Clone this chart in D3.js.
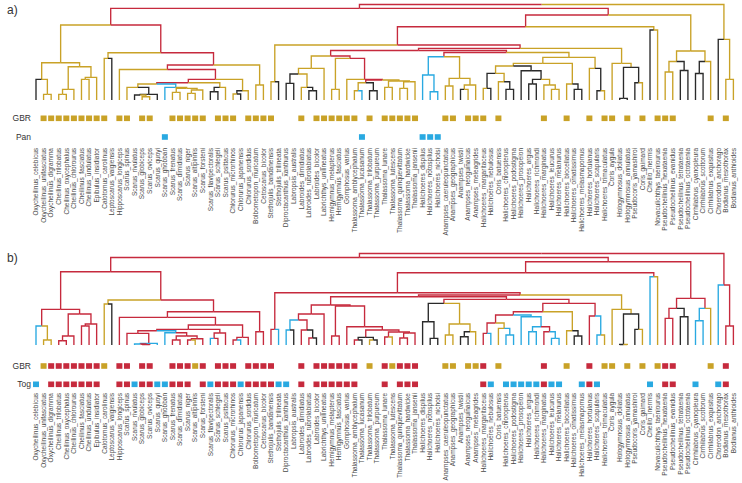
<!DOCTYPE html>
<html><head><meta charset="utf-8">
<script src="https://cdn.jsdelivr.net/npm/d3@7"></script>
<style>body{margin:0;background:#fff}svg{display:block}</style>
</head><body>
<svg id="c" width="742" height="483"></svg>
<script>
// ---------- DATA ----------
const species = ["Oxycheilinus_celebicus","Oxycheilinus_unifasciatus","Oxycheilinus_digramma","Cheilinus_trilobatus","Cheilinus_oxycephalus","Cheilinus_chlorourus","Cheilinus_fasciatus","Cheilinus_undulatus","Epibulus_insidiator","Calotomus_carolinus","Leptoscarus_vaigiensis","Hipposcarus_longiceps","Scarus_spinus","Scarus_rivulatus","Scarus_globiceps","Scarus_oviceps","Scarus_quoyi","Scarus_ghobban","Scarus_frenatus","Scarus_dimidiatus","Scarus_niger","Scarus_altipinnis","Scarus_forsteni","Scarus_flavipectoralis","Scarus_schlegeli","Scarus_psittacus","Chlorurus_microrhinos","Chlorurus_japanensis","Chlorurus_sordidus","Bolbometopon_muricatum","Cetoscarus_bicolor","Stethojulis_bandanensis","Stethojulis_trilineata","Diproctacanthus_xanthurus","Labropsis_australis","Labroides_dimidiatus","Labroides_rubrolabiatus","Labroides_bicolor","Labrichthys_unilineatus","Hemigymnus_melapterus","Hemigymnus_fasciatus","Gomphosus_varius","Thalassoma_amblycephalum","Thalassoma_lucasanum","Thalassoma_trilobatum","Thalassoma_purpureum","Thalassoma_lunare","Thalassoma_lutescens","Thalassoma_quinquevittatum","Thalassoma_hardwicke","Thalassoma_jansenii","Halichoeres_dispilus","Halichoeres_notospilus","Halichoeres_nicholsi","Anampses_caeruleopunctatus","Anampses_geographicus","Anampses_twistii","Anampses_neoguinaicus","Anampses_meleagrides","Halichoeres_margaritaceus","Halichoeres_nebulosus","Coris_batuensis","Halichoeres_chloropterus","Halichoeres_podostigma","Halichoeres_prosopeion","Halichoeres_argus","Halichoeres_richmondi","Halichoeres_marginatus","Halichoeres_leucurus","Halichoeres_melanurus","Halichoeres_biocellatus","Halichoeres_ornatissimus","Halichoeres_melasmapomus","Halichoeres_hortulanus","Halichoeres_scapularis","Halichoeres_trimaculatus","Coris_aygula","Hologymnosus_doliatus","Hologymnosus_annulatus","Pseudocoris_yamashiroi","Coris_gaimard","Cheilio_inermis","Novaculichthys_taeniourus","Pseudocheilinus_hexataenia","Pseudocheilinus_evanidus","Pseudocheilinus_tetrataenia","Pseudocheilinus_octotaenia","Cirrhilabrus_cyanopleura","Cirrhilabrus_scottorum","Cirrhilabrus_exquisitus","Choerodon_anchorago","Bodianus_mesothorax","Bodianus_anthioides"];

// Tree notation: leaf = index+state ; node = (left,right)height+state  (state colours the branch above)
// ---- panel a ----
const a_A   = "((0k,(1g,2g)5.7g)20.7g,(((3g,4g)5.7g,5g)10.7g,((6g,7g)20.7g,8g)22.7g)33.3g)37.3g";
const a_V1  = "((12g,((13k,(14g,15g)3.3g)5k,16k)5.7k)12.7g,(17b,((18g,19g)7.7g,((20g,21g)6.7g,22g)10g)11.7g)12.7b)16r";
const a_Q   = "((9g,10k)41.7g,((11g,(("+a_V1+",((23k,24k)8.3k,25g)12.7g)17.3r,((26g,27k)6k,28g)9.3g)20.7r)30.5r,(29g,30g)15g)35r)47.3r";
const a_C1  = "(((33k,34k)16.7k,(35g,(36k,37k)9.3k)12.7g)26g,38g)31.7g";
const a_C2  = "((39g,40g)10.7g,(41g,(((42g,43b)9.3g,(44k,45k)9.3k)17.3r,((46g,47g)12.7g,((48g,49g)11.7g,50g)18.3g)19g)20r)20.7r)41.7r";
const a_BA  = "((51b,(52b,53b)8.3b)25b,((54g,55g)14g,((56k,57g)10.7g,58g)15g)21.7g)43.3r";
const a_HH  = "(((((59g,60k)11.7k,(61g,(62k,63k)10.7k)18.3g)26.7g,(64k,((65k,66k)16k,(67g,(68g,69g)10.7g)15g)20.7k)29.3k)34g,(70g,(71k,72k)10.7k)16g)36.7g,(73g,(74k,75g)9.3k)31.7g)42.7g";
const a_K   = "(76g,((77k,78k)1.7k,(79k,80g)17.3k)32.7g)36.7g";
const a_Z   = "((31g,32k)18.3g,((("+a_C1+","+a_C2+")44r,("+a_BA+","+a_HH+")47.5r)49.5r,"+a_K+")51.7r)55r";
const a_M   = "(("+a_Z+",(81k,82g)70g)73.3r,(((83g,84g)28g,(85k,86k)29.5k)38.5g,((87k,88k)26.5k,89g)38.5g)49g)85r";
const treeA = "((("+a_A+","+a_Q+")75r,"+a_M+")91.7r,(90k,(91g,92g)20.7g)60.7g)95.5r";

// ---- panel b ----
const b_A   = "((0b,(1g,2g)5g)19r,(((3r,4r)4.3r,5r)9r,((6r,7r)19r,8r)21r)31r)35.7r";
const b_V1  = "((12r,((13b,(14r,15r)0.4r)1b,16b)1.7r)11.7r,(17b,((18r,19r)5r,((20r,21g)5r,22r)6.3r)9r)12.3b)14.3r";
const b_Q   = "((9g,10k)41g,((11r,(("+b_V1+",((23b,24r)6.7r,25r)12r)15.7r,((26r,27b)5r,28r)7.7r)20r)27.7r,(29r,30r)13.3r)33.3r)45r";
const b_C1  = "(((33b,34k)15b,(35r,(36r,37k)7k)15r)25r,38r)31r";
const b_C2  = "((39r,40r)9r,(41r,(((42r,43k)5k,(44g,45k)5k)7.7r,((46r,47g)8r,((48r,49r)7r,50r)12r)13r)15r)18.3r)39r";
const b_BA  = "((51k,(52k,53k)6.7k)23.3k,((54g,55g)10g,((56k,57k)8.3k,58g)13.3g)21g)41.7r";
const b_HH  = "(((((59r,60b)11.7r,(61g,(62b,63b)10b)16.7g)22r,(64b,((65b,66b)13.3b,(67r,(68b,69b)6.7b)13.3r)18.3b)28.3b)30r,(70g,(71k,72k)9k)14.3g)33.3r,(73r,(74b,75g)10b)29r)41.7r";
const b_K   = "(76g,((77k,78g)0.5k,(79k,80g)15.7k)31g)35.7g";
const b_Z   = "((31r,32b)15.7r,((("+b_C1+","+b_C2+")40r,("+b_BA+","+b_HH+")45.7r)48.3r,"+b_K+")50r)52.3r";
const b_M   = "(("+b_Z+",(81b,82g)68.3r)72.3r,(((83r,84r)26.7r,(85k,86k)28.3k)36.7r,((87b,88b)24.3b,89g)36.7r)46.7r)83.3r";
const treeB = "((("+b_A+","+b_Q+")73.3r,"+b_M+")87.5r,(90b,(91r,92r)19r)60r)91.5r";

// occurrence rows
const gbrA = [1,2,3,4,5,6,7,8,9,11,12,14,15,18,19,20,21,22,24,25,26,28,29,30,31,35,37,38,39,40,41,42,44,46,47,48,49,50,54,55,57,58,59,61,67,70,73,75,76,78,80,82,83,84,89,91];
const panA = [17,43,51,52,53];
const gbrB = [[1,"g"],[2,"r"],[3,"r"],[4,"r"],[5,"r"],[6,"r"],[7,"r"],[8,"r"],[9,"g"],[11,"r"],[12,"r"],[14,"r"],[15,"r"],[18,"r"],[19,"r"],[20,"r"],[21,"g"],[22,"r"],[24,"r"],[25,"r"],[26,"r"],[28,"r"],[29,"r"],[30,"r"],[31,"r"],[35,"r"],[37,"r"],[38,"r"],[39,"r"],[40,"r"],[41,"r"],[42,"r"],[44,"g"],[46,"r"],[47,"g"],[48,"r"],[49,"r"],[50,"r"],[54,"g"],[55,"g"],[57,"g"],[58,"g"],[59,"r"],[61,"g"],[67,"r"],[70,"g"],[73,"r"],[75,"g"],[76,"g"],[78,"g"],[80,"g"],[82,"g"],[83,"r"],[84,"r"],[89,"g"],[91,"r"]];
const togB = [[0,"b"],[2,"r"],[3,"r"],[4,"r"],[5,"r"],[6,"r"],[7,"r"],[8,"r"],[11,"r"],[12,"r"],[13,"b"],[14,"r"],[15,"r"],[16,"b"],[17,"b"],[18,"r"],[19,"r"],[20,"r"],[22,"r"],[23,"b"],[24,"r"],[25,"r"],[26,"r"],[27,"b"],[28,"r"],[29,"r"],[30,"r"],[31,"r"],[32,"b"],[33,"b"],[35,"r"],[37,"r"],[38,"r"],[39,"r"],[40,"r"],[41,"r"],[42,"r"],[46,"r"],[48,"r"],[49,"r"],[50,"r"],[59,"r"],[60,"b"],[62,"b"],[63,"b"],[64,"b"],[65,"b"],[66,"b"],[67,"r"],[68,"b"],[69,"b"],[72,"b"],[73,"r"],[74,"b"],[81,"b"],[83,"r"],[84,"r"],[87,"b"],[90,"b"],[91,"r"]];

const stateColor = {g:"#C9A227", r:"#C62A3D", b:"#29A9E1", k:"#2a2a2a"};

// ---------- DRAW ----------
function parseTree(str){
  const s = str.replace(/\s+/g,""); let i = 0;
  const num = () => { const j = i; while (/[0-9.]/.test(s[i])) i++; return +s.slice(j,i); };
  function node(){
    if (s[i] === "("){
      i++; const a = node(); i++; const b = node(); i++;
      const h = num(); const c = s[i++];
      return {children:[a,b], h, c};
    }
    const leaf = num(); const c = s[i++];
    return {leaf, h:0, c};
  }
  return node();
}

const svg = d3.select("#c");
const x = d3.scalePoint().domain(d3.range(species.length)).range([36, 733.4]);

function drawTree(tree, yTop, yBase){
  const root = d3.hierarchy(tree, d => d.children);
  const maxH = root.data.h;
  const y = d3.scaleLinear().domain([0, maxH]).range([yBase, yTop]);
  root.eachAfter(n => {
    n.px = n.children ? (n.children[0].px + n.children[1].px) / 2 : x(n.data.leaf);
    n.py = y(n.data.h);
  });
  const g = svg.append("g").attr("fill","none").attr("stroke-width",1.35);
  root.descendants().filter(n => n.parent).forEach(n => {
    g.append("path")
      .attr("d", `M${n.px},${n.py}V${n.parent.py}H${n.parent.px}`)
      .attr("stroke", stateColor[n.data.c]);
  });
}

function drawRow(items, yc, label){
  svg.append("g").selectAll("rect").data(items).join("rect")
    .attr("x", d => x(d[0]) - 3).attr("y", yc - 2.8)
    .attr("width", 6).attr("height", 5.6)
    .attr("fill", d => stateColor[d[1]]);
  svg.append("text").attr("x", 31).attr("y", yc + 3)
    .attr("text-anchor","end").attr("font-family","Liberation Sans, Arial, sans-serif")
    .attr("font-size", 8.5).attr("fill","#333").text(label);
}

function drawLabels(yTop){
  svg.append("g").selectAll("text").data(species).join("text")
    .attr("transform", (d,i) => `translate(${x(i)},${yTop}) rotate(-90)`)
    .attr("text-anchor","end").attr("dy","0.35em")
    .attr("font-family","Liberation Sans, Arial, sans-serif")
    .attr("font-size", 6.5).attr("fill","#4a4a4a").text(d => d);
}

// panel a
drawTree(parseTree(treeA), 4.5, 100);
drawRow(gbrA.map(i => [i,"g"]), 118.3, "GBR");
drawRow(panA.map(i => [i,"b"]), 137, "Pan");
drawLabels(148);
svg.append("text").attr("x",7).attr("y",14).attr("font-family","Liberation Sans, Arial, sans-serif")
  .attr("font-size",12).attr("fill","#333").text("a)");

// panel b
drawTree(parseTree(treeB), 253.5, 345);
drawRow(gbrB, 366, "GBR");
drawRow(togB, 384.3, "Tog");
drawLabels(393);
svg.append("text").attr("x",7).attr("y",262).attr("font-family","Liberation Sans, Arial, sans-serif")
  .attr("font-size",12).attr("fill","#333").text("b)");
</script>
</body></html>
